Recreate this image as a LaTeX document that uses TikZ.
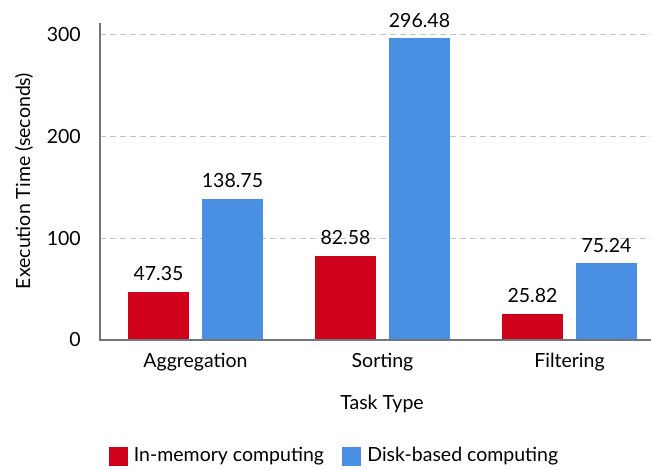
\documentclass[tikz,border=0pt]{standalone}
\usepackage{fontspec}
\setmainfont{Lato}
\usetikzlibrary{positioning}
\definecolor{inmem}{HTML}{D0021B}
\definecolor{disk}{HTML}{4A90E2}
\definecolor{gridgray}{HTML}{C4C4C4}
\definecolor{axisgray}{HTML}{707680}

\begin{document}
\begin{tikzpicture}[x=1pt, y=1pt, font=\fontsize{19.5}{23}\selectfont,
    gridline/.style={gridgray, line width=1pt, dash pattern=on 6pt off 4pt},
    axisline/.style={axisgray, line width=1.3pt},
    inmembar/.style={fill=inmem, draw=none},
    diskbar/.style={fill=disk, draw=none},
    vallabel/.style={anchor=south, inner sep=0pt},
    keybox/.style={minimum size=19pt, inner sep=0pt}]
    \useasboundingbox (0,0) rectangle (651,470);

    % Grid and ticks (baseline at y=130, 1.017pt per second)
    \foreach \v in {100,200,300}
        \draw[gridline] (100,130+\v*1.017) -- (651,130+\v*1.017);
    \foreach \v in {0,100,200,300}
        \node[anchor=east, inner sep=0pt] (tick\v) at (81,130+\v*1.017) {\v};

    % Bars
    \foreach \cx/\task/\a/\b in {195.5/Aggregation/47.35/138.75, 382.5/Sorting/82.58/296.48, 569.5/Filtering/25.82/75.24}{
        \fill[inmembar] (\cx-67.5,130) rectangle (\cx-6.5,130+\a*1.017);
        \fill[diskbar] (\cx+6.5,130) rectangle (\cx+67.5,130+\b*1.017);
        \node[vallabel] (val\task a) at (\cx-37,141+\a*1.017) {\a};
        \node[vallabel] (val\task b) at (\cx+37,141+\b*1.017) {\b};
        \node[anchor=base] (cat\task) at (\cx,102) {\task};
    }

    % Axes
    \draw[axisline] (100,447) -- (100,130) -- (651,130);

    % Axis titles
    \node[anchor=base] (xtitle) at (382,60) {Task Type};
    \node[rotate=90] (ytitle) at (24,289) {Execution Time (seconds)};

    % Legend
    \node[keybox, fill=inmem] (keyinmem) at (118,13.5) {};
    \node[right=5pt of keyinmem, inner sep=1pt] (txtinmem) {In-memory computing};
    \node[keybox, fill=disk] (keydisk) at (351.5,13.5) {};
    \node[right=5pt of keydisk, inner sep=1pt] (txtdisk) {Disk-based computing};
\end{tikzpicture}
\end{document}
